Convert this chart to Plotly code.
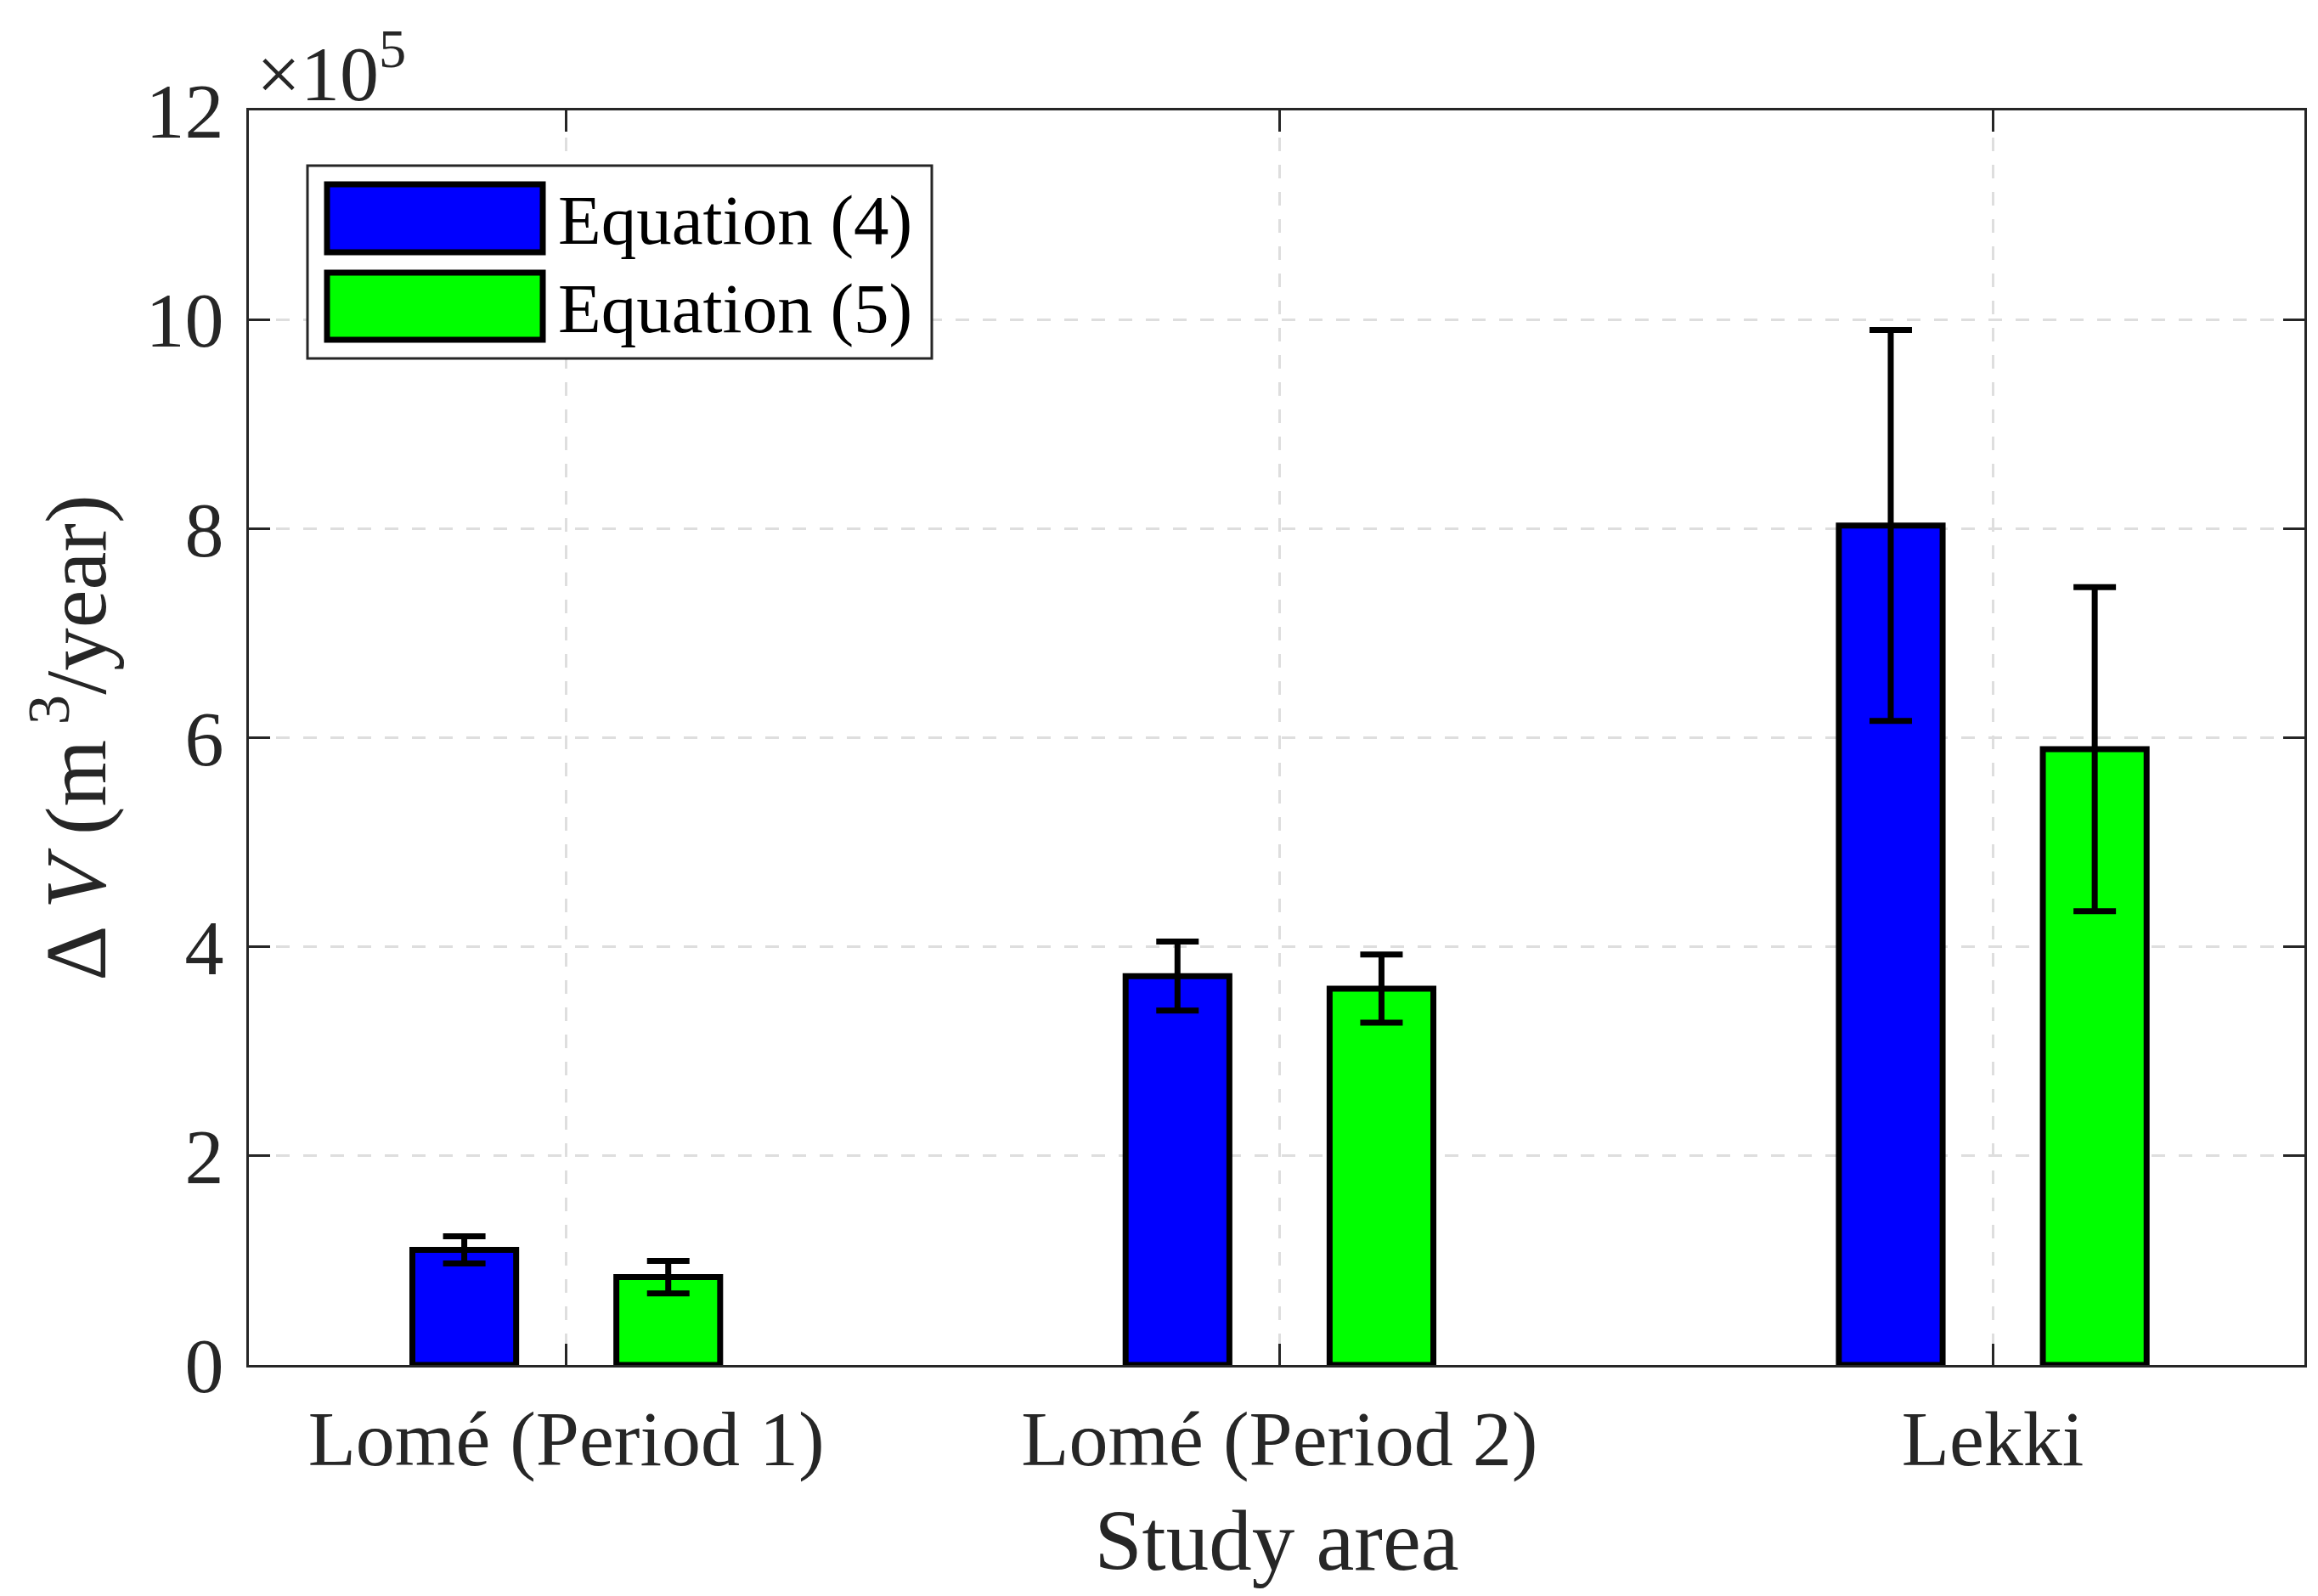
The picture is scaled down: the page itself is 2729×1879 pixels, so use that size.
import plotly.graph_objects as go

# ---------------- data ----------------
categories = ["Lomé (Period 1)", "Lomé (Period 2)", "Lekki"]
series_names = ["Equation (4)", "Equation (5)"]
eq4_values = [1.10e5, 3.72e5, 8.03e5]
eq4_errors = [0.13e5, 0.33e5, 1.87e5]
eq5_values = [0.84e5, 3.60e5, 5.89e5]
eq5_errors = [0.155e5, 0.326e5, 1.55e5]
y_tick_values = [0, 2e5, 4e5, 6e5, 8e5, 10e5, 12e5]
y_tick_labels = ["0", "2", "4", "6", "8", "10", "12"]

# ---------------- style ----------------
colors = ["#0000ff", "#00ff00"]
FONT = "Liberation Serif, Times New Roman, serif"
AX = "#262626"
W, H = 2729, 1879
L, R, T, B = 293, 2713, 130, 1607
PW, PH = R - L, B - T


def px(x):
    return (x - L) / PW


def py(y):
    return (B - y) / PH


bar_w = 0.1455
bar_off = [-0.143, 0.143]

fig = go.Figure()
for vals, errs, name, col, off in zip([eq4_values, eq5_values], [eq4_errors, eq5_errors],
                                      series_names, colors, bar_off):
    fig.add_trace(go.Bar(
        x=categories, y=vals, name=name, width=bar_w, offset=off - bar_w / 2,
        marker=dict(color=col, line=dict(color="black", width=7)),
        error_y=dict(type="data", array=errs, color="black", thickness=7, width=25),
        showlegend=False,
    ))

axis_common = dict(
    showline=True, linecolor=AX, linewidth=3, mirror="ticks",
    ticks="inside", ticklen=25, tickwidth=3, tickcolor=AX,
    showgrid=True, gridcolor="#dedede", gridwidth=3, griddash="16px,16px",
    tickfont=dict(family=FONT, size=92, color=AX),
    zeroline=False,
)

fig.update_xaxes(
    type="category", range=[-0.445, 2.437], ticklabelstandoff=5,
    title=dict(text="Study area", font=dict(family=FONT, size=101, color=AX), standoff=33),
    **axis_common,
)
fig.update_yaxes(
    range=[0, 12e5], tickmode="array", tickvals=y_tick_values, ticktext=y_tick_labels,
    ticklabelstandoff=8,
    title=dict(text="Δ <i>V</i> (m<sup> 3</sup>/year)", font=dict(family=FONT, size=101, color=AX),
               standoff=14),
    **axis_common,
)

# exponent label
fig.add_annotation(xref="paper", yref="paper", x=px(300), y=py(140), xanchor="left", yanchor="bottom",
                   text="×10<sup>5</sup>", showarrow=False,
                   font=dict(family=FONT, size=92, color=AX))

# manual legend (MATLAB-style large swatches)
shapes = [dict(type="rect", xref="paper", yref="paper", x0=px(362), x1=px(1097), y0=py(422), y1=py(195),
               line=dict(color=AX, width=3), fillcolor="white", layer="above")]
sw_top = [217, 321]
sw_bot = [297, 400]
for i, name in enumerate(series_names):
    shapes.append(dict(type="rect", xref="paper", yref="paper", x0=px(385), x1=px(639),
                       y0=py(sw_bot[i]), y1=py(sw_top[i]), fillcolor=colors[i],
                       line=dict(color="black", width=7), layer="above"))
    fig.add_annotation(xref="paper", yref="paper", x=px(655), y=py((sw_top[i] + sw_bot[i]) / 2 + 2),
                       xanchor="left", yanchor="middle", text=name, showarrow=False,
                       font=dict(family=FONT, size=83, color="black"))

fig.update_layout(
    width=W, height=H, barmode="overlay",
    margin=dict(l=L, r=W - R, t=T, b=H - B, pad=0),
    plot_bgcolor="white", paper_bgcolor="white",
    shapes=shapes,
    font=dict(family=FONT, color=AX),
)

fig.write_html("out.html", config={"displayModeBar": False},
               post_script="document.body.style.margin='0';")
